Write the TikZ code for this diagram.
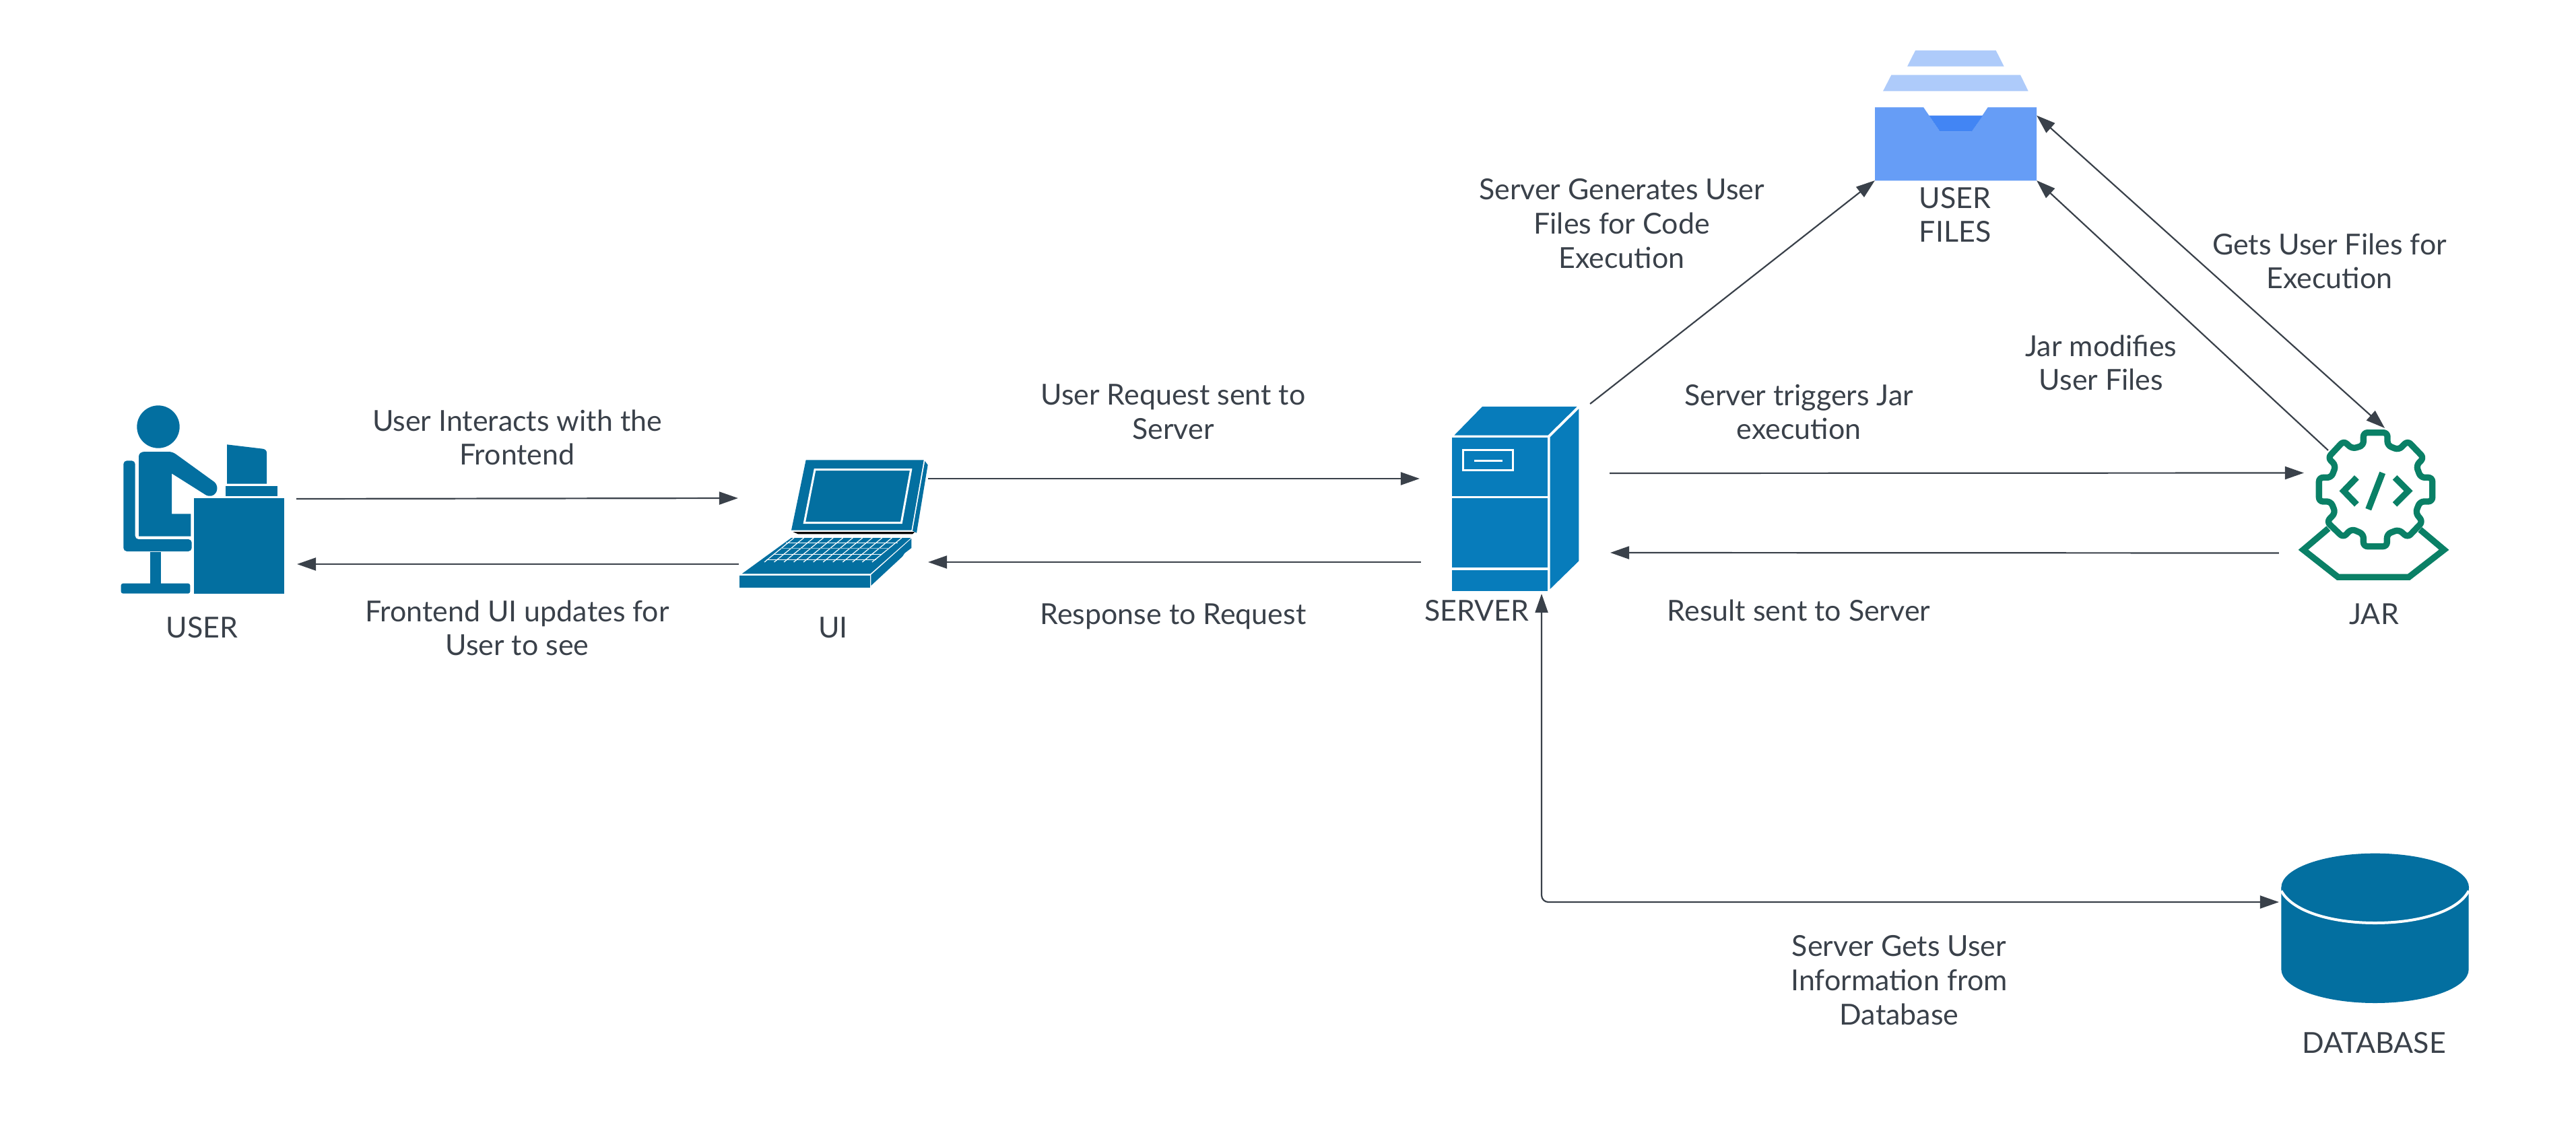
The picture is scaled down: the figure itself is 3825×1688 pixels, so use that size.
\documentclass[tikz,border=0pt]{standalone}
\usepackage{fontspec}
\setmainfont{Lato}
\usetikzlibrary{arrows.meta}
\definecolor{ink}{HTML}{3A414A}
\definecolor{iconblue}{HTML}{036FA0}
\definecolor{serverblue}{HTML}{077CBB}
\definecolor{filelight}{HTML}{AECBFA}
\definecolor{filemid}{HTML}{669DF6}
\definecolor{filedark}{HTML}{4285F4}
\definecolor{jargreen}{HTML}{0A8066}
\tikzset{
  label/.style={text=ink,align=center,inner sep=0pt,font=\fontsize{12.2}{14.4}\selectfont},
  iconbox/.style={inner sep=0pt,outer sep=0pt},
  conn/.style={draw=ink,line width=0.022cm,-{Triangle[length=0.28cm,width=0.19cm]}},
  connboth/.style={draw=ink,line width=0.022cm,{Triangle[length=0.28cm,width=0.19cm]}-{Triangle[length=0.28cm,width=0.19cm]}},
  zoomed/.style={shift={#1},scale=0.33333},
  jarline/.style={draw=jargreen,line width=0.093cm},
}
\begin{document}
\begin{tikzpicture}[x=0.01cm,y=-0.01cm]
\useasboundingbox (0,0) rectangle (3825,1688);
\fill[white] (0,0) rectangle (3825,1688);

% icon holders
\node[iconbox,minimum width=2.43cm,minimum height=2.80cm] (user) at (300.5,742) {};
\node[iconbox,minimum width=2.80cm,minimum height=1.90cm] (ui) at (1238,778) {};
\node[iconbox,minimum width=1.88cm,minimum height=2.74cm] (server) at (2250,741) {};
\node[iconbox,minimum width=2.40cm,minimum height=1.93cm] (files) at (2904,171.5) {};
\node[iconbox,minimum width=2.24cm,minimum height=2.25cm] (jar) at (3525,749.5) {};
\node[iconbox,minimum width=2.79cm,minimum height=2.22cm] (db) at (3526.5,1379) {};

% USER icon
\begin{scope}[zoomed={(140,560)}]
\fill[iconblue] (285,222) circle[radius=95];
\fill[iconblue] (198,355) .. controls (198,340) and (210,333) .. (225,333) -- (330,333)
  .. controls (345,333) and (355,338) .. (365,345) -- (535,468)
  .. controls (560,490) and (545,535) .. (510,530) .. controls (505,530) and (500,528) .. (497,526)
  -- (345,430) -- (345,610) -- (430,610) -- (430,710) -- (198,710) -- cycle;
\fill[iconblue,rounded corners=0.05cm] (130,373) -- (182,373) -- (182,723) -- (434,723) -- (434,777) -- (130,777) -- cycle;
\fill[iconblue] (249,780) rectangle (297,925);
\fill[iconblue,rounded corners=0.03cm] (119,920) rectangle (427,965);
\fill[iconblue] (443,541) rectangle (845,965);
\fill[iconblue] (586,486) rectangle (817,531);
\fill[iconblue] (591,301) -- (750,320) .. controls (762,322) and (768,328) .. (768,338) -- (768,476) -- (591,476) -- cycle;
\end{scope}

% UI icon
\begin{scope}[zoomed={(1060,650)}]
\fill[iconblue] (410,100) -- (935,100) -- (880,413) -- (345,413) -- cycle;
\draw[white,line width=0.03cm] (450,143) -- (878,143) -- (835,380) -- (403,380) -- cycle;
\fill[iconblue] (940,105) -- (953,122) -- (903,425) -- (885,415) -- cycle;
\fill[black] (352,420) -- (895,420) -- (885,430) -- (375,430) -- cycle;
\fill[iconblue] (345,447) -- (878,447) -- (697,607) -- (125,607) -- cycle;
\fill[iconblue] (115,615) rectangle (695,668);
\fill[iconblue] (700,612) -- (880,450) -- (880,492) -- (850,515) -- (840,530) -- (700,660) -- cycle;
\foreach \i in {0,...,11} {
  \draw[white,line width=0.012cm] ({357+\i*43.6},447) -- ({225+\i*43.6},555);
}
\draw[white,line width=0.012cm] (320,469) -- (818,469);
\draw[white!60!iconblue,line width=0.015cm] (298,494) -- (780,494);
\draw[white,line width=0.012cm] (268,520) -- (750,520);
\draw[white,line width=0.012cm] (235,545) -- (722,545);
\end{scope}

% SERVER icon
\begin{scope}[zoomed={(2130,580)}]
\fill[serverblue] (213,72) -- (635,72) -- (505,200) -- (88,200) -- cycle;
\fill[serverblue] (78,211) rectangle (505,895);
\fill[serverblue] (515,208) -- (643,82) -- (643,760) -- (515,885) -- cycle;
\draw[white,line width=0.035cm] (78,475) -- (505,475);
\draw[white,line width=0.035cm] (78,795) -- (505,795);
\draw[white,line width=0.033cm] (128,266) rectangle (350,356);
\draw[white,line width=0.033cm] (178,313) -- (303,313);
\end{scope}

% USER FILES icon
\begin{scope}[zoomed={(2750,50)}]
\fill[filelight] (282,75) -- (641,75) -- (677,146) -- (246,146) -- cycle;
\fill[filelight] (175,184) -- (750,184) -- (785,256) -- (138,256) -- cycle;
\fill[filemid] (102,328) -- (318,328) -- (392,437) -- (533,437) -- (605,328) -- (822,328) -- (822,655) -- (102,655) -- cycle;
\fill[filedark] (343,365) -- (582,365) -- (533,437) -- (392,437) -- cycle;
\end{scope}

% JAR icon
\begin{scope}[zoomed={(3400,620)}]
\draw[jarline,line join=round,rounded corners=0.06cm]
  (328,125) -- (328,68) -- (435,68) -- (435,125) -- (485,145) -- (525,105) -- (597,180) -- (563,215)
  -- (583,268) -- (635,268) -- (635,375) -- (580,375) -- (560,425) -- (592,465) -- (525,535) -- (485,500)
  -- (433,520) -- (433,575) -- (328,575) -- (328,520) -- (275,497) -- (238,535) -- (165,465) -- (203,425)
  -- (183,375) -- (130,375) -- (130,268) -- (185,268) -- (205,215) -- (170,180) -- (240,105) -- (278,140) -- cycle;
\draw[jarline] (298,268) -- (240,328) -- (298,388);
\draw[jarline] (468,268) -- (528,328) -- (468,388);
\draw[jarline] (413,247) -- (350,410);
\draw[jarline] (172,495) -- (60,590) -- (215,712) -- (530,712) -- (687,590) -- (580,500);
\end{scope}

% DATABASE icon
\begin{scope}[zoomed={(3360,1240)}]
\fill[iconblue] (82,235) -- (82,600) .. controls (82,683) and (269,750) .. (500,750)
  .. controls (731,750) and (917,683) .. (917,600) -- (917,235) -- cycle;
\fill[iconblue] (500,235) ellipse[x radius=418,y radius=152];
\draw[white,line width=0.04cm] (82,250) .. controls (130,340) and (300,393) .. (500,393)
  .. controls (700,393) and (870,340) .. (917,250);
\end{scope}

% connectors
\draw[conn] ([shift={(18,-1)}]user.east) -- ([shift={(-2,-38)}]ui.west);
\draw[conn] ([shift={(-1,60)}]ui.west) -- ([shift={(19,96)}]user.east);
\draw[conn] ([shift={(0,-67)}]ui.east) -- ([shift={(-48,-30)}]server.west);
\draw[conn] ([shift={(-46,94)}]server.west) -- ([shift={(0,57)}]ui.east);
\draw[conn] ([shift={(46,-38)}]server.east) -- ([shift={(8,-47)}]jar.west);
\draw[conn] ([shift={(-29,72)}]jar.west) -- ([shift={(47,80)}]server.east);
\draw[conn] ([shift={(17,-4)}]server.north east) -- (files.south west);
\draw[connboth] (files.east) -- ([shift={(16,-1)}]jar.north);
\draw[conn] ([shift={(44,32)}]jar.north west) -- (files.south east);
\draw[connboth,rounded corners=0.1cm] ([shift={(39,4)}]server.south) |- ([shift={(-3,-39)}]db.west);

% labels
\node[label] (tuser) at (300,932) {USER};
\node[label] (tui) at (1237,932) {UI};
\node[label] (tserver) at (2193,907) {SERVER};
\node[label] (tjar) at (3525,912) {JAR};
\node[label] (tdb) at (3525,1549) {DATABASE};
\node[label] (tfiles) at (2903,319) {USER\\FILES};
\node[label] (l1) at (768,650) {User Interacts with the\\Frontend};
\node[label] (l2) at (768,933) {Frontend UI updates for\\User to see};
\node[label] (l3) at (1742,612) {User Request sent to\\Server};
\node[label] (l4) at (1742,916) {Response to Request};
\node[label] (l5) at (2671,612) {Server triggers Jar\\execution};
\node[label] (l6) at (2671,907) {Result sent to Server};
\node[label] (l7) at (2408,332) {Server Generates User\\Files for Code\\Execution};
\node[label] (l8) at (3120,539) {Jar modifies\\User Files};
\node[label] (l9) at (3459,388) {Gets User Files for\\Execution};
\node[label] (l10) at (2820,1456) {Server Gets User\\Information from\\Database};
\end{tikzpicture}
\end{document}
